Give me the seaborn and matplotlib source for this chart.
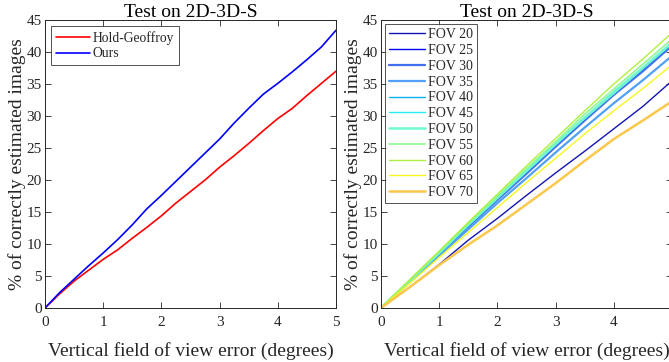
import numpy as np
import pandas as pd
import matplotlib
matplotlib.use("Agg")
import matplotlib.pyplot as plt
import seaborn as sns

# ---------------- data ----------------
x_left = [0, 0.25, 0.5, 0.75, 1, 1.25, 1.5, 1.75, 2, 2.25, 2.5, 2.75, 3,
          3.25, 3.5, 3.75, 4, 4.25, 4.5, 4.75, 5]
hold_geoffroy = [0, 2.2, 4.2, 5.9, 7.6, 9.1, 10.9, 12.6, 14.4, 16.4, 18.2, 20.0,
                 22.0, 23.8, 25.7, 27.7, 29.6, 31.2, 33.2, 35.1, 37.0]
ours = [0, 2.4, 4.5, 6.6, 8.6, 10.7, 13.0, 15.5, 17.6, 19.8, 22.0, 24.2,
        26.4, 28.9, 31.2, 33.4, 35.1, 36.9, 38.8, 40.8, 43.4]

x_right = [0, 0.5, 1, 1.5, 2, 2.5, 3, 3.5, 4, 4.5, 5]
fov_labels = ["FOV 20", "FOV 25", "FOV 30", "FOV 35", "FOV 40", "FOV 45",
              "FOV 50", "FOV 55", "FOV 60", "FOV 65", "FOV 70"]
fov20 = [0, 3.3, 6.8, 10.6, 14.0, 17.6, 21.1, 24.5, 28.0, 31.5, 35.5]
fov25 = [0, 4.2, 8.5, 12.8, 17.0, 21.1, 25.3, 29.4, 33.4, 37.2, 41.2]
fov30 = [0, 4.2, 8.4, 12.7, 16.9, 21.0, 25.2, 29.3, 33.3, 37.0, 41.0]
fov35 = [0, 4.1, 8.2, 12.3, 16.4, 20.3, 24.3, 28.2, 32.0, 35.6, 39.4]
fov40 = [0, 4.3, 8.5, 12.9, 17.1, 21.3, 25.5, 29.6, 33.6, 37.4, 41.3]
fov45 = [0, 4.3, 8.6, 13.0, 17.3, 21.5, 25.7, 29.8, 33.8, 37.6, 41.5]
fov50 = [0, 4.3, 8.6, 13.0, 17.2, 21.4, 25.6, 29.7, 33.6, 37.5, 41.4]
fov55 = [0, 4.4, 8.8, 13.2, 17.5, 21.8, 26.0, 30.3, 34.2, 38.1, 42.0]
fov60 = [0, 4.5, 8.9, 13.4, 17.8, 22.2, 26.5, 30.8, 35.0, 38.9, 43.0]
fov65 = [0, 3.9, 7.9, 11.8, 15.7, 19.6, 23.4, 27.2, 30.8, 34.3, 38.0]
fov70 = [0, 3.3, 6.7, 9.9, 12.9, 16.2, 19.5, 23.0, 26.4, 29.3, 32.3]
fov_series = [fov20, fov25, fov30, fov35, fov40, fov45, fov50, fov55, fov60, fov65, fov70]

fov_colors = ["#1414b4", "#0000ee", "#4070f0", "#50a0f8", "#10b0f0", "#20f0f0",
              "#70f8d0", "#90f890", "#b0f040", "#f8f820", "#fcc84c"]
fov_widths = [1.0, 1.0, 1.6, 1.6, 1.0, 1.0, 1.8, 1.2, 1.0, 1.0, 1.8]

x_ticks = [0, 1, 2, 3, 4, 5]
y_ticks = [0, 5, 10, 15, 20, 25, 30, 35, 40, 45]
title_text = "Test on 2D-3D-S"
xlabel_text = "Vertical field of view error (degrees)"
ylabel_text = "% of correctly estimated images"

# ---------------- style ----------------
sns.set_style("ticks")
plt.rcParams["font.family"] = ["Liberation Serif", "DejaVu Serif"]

fig = plt.figure(figsize=(6.69, 3.62), dpi=100)
axL = fig.add_axes([45 / 669, 54 / 362, 291 / 669, 288 / 362])
axR = fig.add_axes([381 / 669, 54 / 362, 291 / 669, 288 / 362])

axis_col = "#262626"


def style_axes(ax):
    ax.set_xlim(0, 5)
    ax.set_ylim(0, 45)
    ax.set_xticks(x_ticks)
    ax.set_yticks(y_ticks)
    ax.tick_params(direction="in", length=4, width=0.6, top=True, right=True,
                   labelsize=11, colors=axis_col)
    ax.tick_params(axis="x", pad=6)
    ax.tick_params(axis="y", pad=2.5)
    for s in ax.spines.values():
        s.set_visible(True)
        s.set_linewidth(0.7)
        s.set_color(axis_col)
    ax.set_title(title_text, fontsize=14, pad=2, color="black")
    ax.set_xlabel(xlabel_text, fontsize=14, labelpad=9, color=axis_col)
    ax.set_ylabel(ylabel_text, fontsize=14, labelpad=0, color=axis_col)


# left panel
dfL = pd.DataFrame({"x": x_left * 2,
                    "y": hold_geoffroy + ours,
                    "method": ["Hold-Geoffroy"] * len(x_left) + ["Ours"] * len(x_left)})
sns.lineplot(data=dfL, x="x", y="y", hue="method",
             palette={"Hold-Geoffroy": "#ff0000", "Ours": "#0000ff"},
             linewidth=1.2, ax=axL)
style_axes(axL)
legL = axL.legend(loc="upper left", fontsize=9.8, frameon=True, fancybox=False,
                  edgecolor=axis_col, handlelength=2.5, labelspacing=0.2,
                  borderpad=0.35, handletextpad=0.2, borderaxespad=0.45)
legL.get_frame().set_linewidth(0.7)

# right panel
for lab, ys, c, lw in zip(fov_labels, fov_series, fov_colors, fov_widths):
    sns.lineplot(x=x_right, y=ys, color=c, linewidth=lw, label=lab, ax=axR)
style_axes(axR)
legR = axR.legend(loc="upper left", fontsize=10, frameon=True, fancybox=False,
                  edgecolor=axis_col, handlelength=2.6, labelspacing=0.2,
                  borderpad=0.3, handletextpad=0.2, borderaxespad=0.3)
legR.get_frame().set_linewidth(0.7)

fig.savefig("out.png", dpi=100)
